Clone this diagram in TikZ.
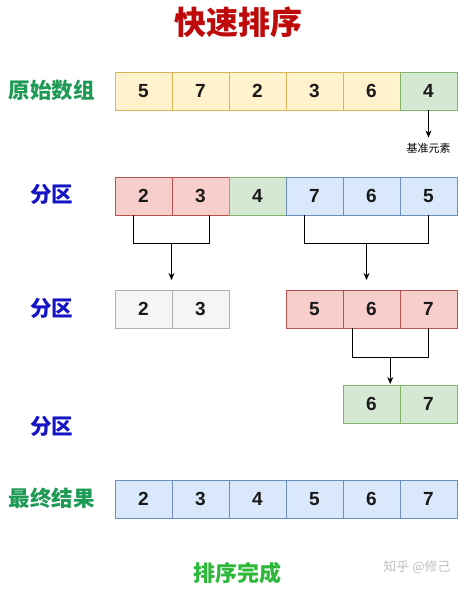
\documentclass[tikz,border=0pt]{standalone}
\usepackage{fontspec}
\setmainfont{Liberation Sans}
\newfontfamily\cjk{Noto Sans CJK SC}
\usetikzlibrary{arrows.meta,calc}
\definecolor{yfill}{HTML}{FFF2CC}\definecolor{yline}{HTML}{D6B656}
\definecolor{gfill}{HTML}{D5E8D4}\definecolor{gline}{HTML}{82B366}
\definecolor{rfill}{HTML}{F8CECC}\definecolor{rline}{HTML}{B85450}
\definecolor{bfill}{HTML}{DAE8FC}\definecolor{bline}{HTML}{6C8EBF}
\definecolor{efill}{HTML}{F5F5F5}\definecolor{eline}{HTML}{B0B0B0}
\definecolor{titlered}{HTML}{BE0A0A}
\definecolor{labelgreen}{HTML}{1E9A55}
\definecolor{donegreen}{HTML}{2DB83A}
\definecolor{labelblue}{HTML}{1414C4}
\tikzset{
  cell/.style={
    draw,
    line width=0.6pt,
    minimum width=57pt,
    minimum height=38pt,
    inner sep=0pt,
    outer sep=0pt,
    text=black!90,
    font=\fontsize{19}{19}\selectfont\bfseries
  },
  yellowcell/.style={cell, fill=yfill, draw=yline},
  greencell/.style={cell, fill=gfill, draw=gline},
  redcell/.style={cell, fill=rfill, draw=rline},
  bluecell/.style={cell, fill=bfill, draw=bline},
  greycell/.style={cell, fill=efill, draw=eline},
  rowlabel/.style={font=\fontsize{21.5}{21.5}\selectfont\cjk\bfseries},
  link/.style={draw=black, line width=1pt},
  arr/.style={link, -{Stealth[length=7pt,width=6pt]}}
}

\begin{document}
\begin{tikzpicture}[x=1pt,y=-1pt]
\useasboundingbox (0,0) rectangle (466,589);
\node[font=\fontsize{32}{32}\selectfont\cjk\bfseries, text=titlered] (title) at (238,22) {快速排序};

\node[rowlabel, text=labelgreen] (lorig) at (52,90) {原始数组};
\node[rowlabel, text=labelblue] (lpart1) at (52,194) {分区};
\node[rowlabel, text=labelblue] (lpart2) at (52,308) {分区};
\node[rowlabel, text=labelblue] (lpart3) at (52,426) {分区};
\node[rowlabel, text=labelgreen] (lfinal) at (52,498) {最终结果};

\foreach \v/\s [count=\i] in {5/yellowcell,7/yellowcell,2/yellowcell,3/yellowcell,6/yellowcell,4/greencell}
  \node[\s] (a\i) at ({86.5+57*\i},91) {\v};
\foreach \v/\s [count=\i] in {2/redcell,3/redcell,4/greencell,7/bluecell,6/bluecell,5/bluecell}
  \node[\s] (b\i) at ({86.5+57*\i},196) {\v};
\foreach \v [count=\i] in {2,3}
  \node[greycell] (c\i) at ({86.5+57*\i},309) {\v};
\foreach \v [count=\i] in {5,6,7}
  \node[redcell] (d\i) at ({86.5+57*(\i+3)},309) {\v};
\foreach \v [count=\i] in {6,7}
  \node[greencell] (e\i) at ({86.5+57*(\i+4)},404) {\v};
\foreach \v [count=\i] in {2,3,4,5,6,7}
  \node[bluecell] (f\i) at ({86.5+57*\i},499) {\v};

\node[font=\fontsize{11}{11}\selectfont\cjk] (pivot) at (428.5,148) {基准元素};
\draw[arr, shorten >=2pt] (a6.south) -- (pivot.north);

\draw[link] ([xshift=-10pt]b1.south) -- ++(0,28) -| coordinate[pos=0.25] (m1) ([xshift=9pt]b2.south);
\draw[link] ([xshift=-10pt]b4.south) -- ++(0,28) -| coordinate[pos=0.25] (m2) (b6.south);
\draw[link] ([xshift=-19.5pt]d2.south) -- ++(0,29) -| coordinate[pos=0.25] (m3) (d3.south);
\draw[arr, shorten >=10pt] (m1) -- (m1 |- c1.north);
\draw[arr, shorten >=10pt] (m2) -- (m2 |- d1.north);
\draw[arr, shorten >=1pt] (m3) -- (m3 |- e1.north);

\node[font=\fontsize{22}{22}\selectfont\cjk\bfseries, text=donegreen] (done) at (237,573) {排序完成};
\node[font=\fontsize{13}{13}\selectfont\cjk, text=black!25] (mark) at (417,567) {知乎 @修己};
\end{tikzpicture}
\end{document}
